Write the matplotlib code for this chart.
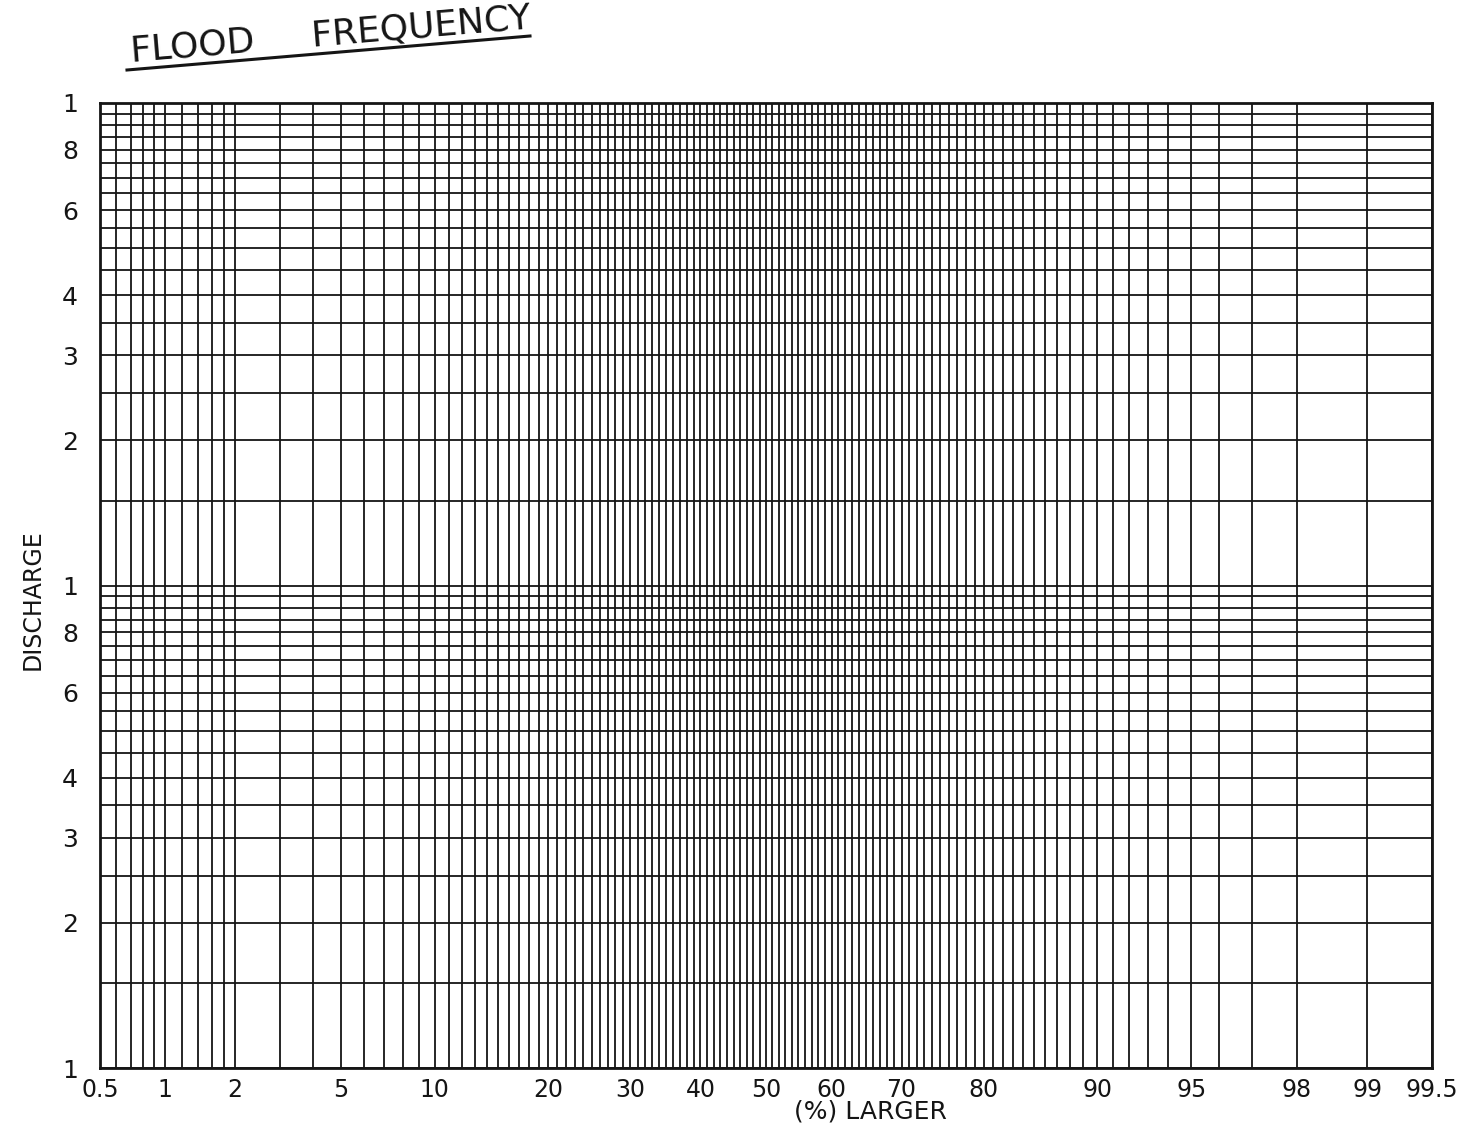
import math
from statistics import NormalDist

import numpy as np
import matplotlib
matplotlib.use("Agg")
import matplotlib.pyplot as plt
from matplotlib.lines import Line2D
from matplotlib.ticker import NullFormatter

# ---------------- data ----------------
prob_ticks = [0.5, 1, 2, 5, 10, 20, 30, 40, 50, 60, 70, 80, 90, 95, 98, 99, 99.5]
prob_tick_labels = ["0.5", "1", "2", "5", "10", "20", "30", "40", "50",
                    "60", "70", "80", "90", "95", "98", "99", "99.5"]
prob_grid_low = [0.6, 0.7, 0.8, 0.9, 1, 1.2, 1.4, 1.6, 1.8, 2, 3, 4, 5, 6, 7, 8, 9]
prob_grid_mid = list(range(10, 96))          # one line per percent 10 … 95
prob_grid_high = [96, 97, 98, 99]
prob_grid = prob_grid_low + prob_grid_mid + prob_grid_high

discharge_ticks = [1, 2, 3, 4, 6, 8, 10, 20, 30, 40, 60, 80, 100]
discharge_tick_labels = ["1", "2", "3", "4", "6", "8",
                         "1", "2", "3", "4", "6", "8", "1"]
discharge_steps = [1.0, 1.5, 2.0, 2.5, 3.0, 3.5, 4.0, 4.5, 5.0, 5.5,
                   6.0, 6.5, 7.0, 7.5, 8.0, 8.5, 9.0, 9.5]
discharge_cycles = [1, 10]
discharge_grid = [s * c for c in discharge_cycles for s in discharge_steps] + [100]

title_text = "FLOOD     FREQUENCY"
xlabel_text = "(%) LARGER"
ylabel_text = "DISCHARGE"

# ---------------- probability scale ----------------
_nd = NormalDist()


def _fwd(p):
    p = np.asarray(p, dtype=float)
    q = np.clip(p / 100.0, 1e-9, 1 - 1e-9)
    return np.vectorize(_nd.inv_cdf)(q)


def _inv(z):
    z = np.asarray(z, dtype=float)
    return 50.0 * (1.0 + np.vectorize(math.erf)(z / math.sqrt(2.0)))


W, H = 1464, 1133
fig = plt.figure(figsize=(W / 100, H / 100), dpi=100)
fig.patch.set_facecolor("white")

left, right, top, bottom = 100, 1432, 103, 1068
ax = fig.add_axes([left / W, 1 - bottom / H, (right - left) / W, (bottom - top) / H])

ax.set_xscale("function", functions=(_fwd, _inv))
ax.set_yscale("log")
ax.set_xlim(0.5, 99.5)
ax.set_ylim(1, 100)

ink = "#151515"

ax.set_xticks(prob_ticks)
ax.set_xticklabels(prob_tick_labels)
ax.set_xticks(prob_grid, minor=True)
ax.xaxis.set_minor_formatter(NullFormatter())

ax.set_yticks(discharge_ticks)
ax.set_yticklabels(discharge_tick_labels)
ax.set_yticks(discharge_grid, minor=True)
ax.yaxis.set_minor_formatter(NullFormatter())

ax.grid(True, which="both", color=ink, linewidth=1.3)
ax.set_axisbelow(False)

ax.tick_params(which="both", length=0)
ax.tick_params(axis="x", which="major", pad=7, labelsize=17, colors=ink)
ax.tick_params(axis="y", which="major", pad=16, labelsize=18, colors=ink)

for s in ax.spines.values():
    s.set_color(ink)
    s.set_linewidth(2.0)

# ---------------- texts ----------------
fig.text(132 / W, 1 - 62 / H, title_text, fontsize=26, color=ink,
         ha="left", va="baseline", rotation=4.8, rotation_mode="anchor")
fig.add_artist(Line2D([127 / W, 530 / W], [1 - 70 / H, 1 - 36 / H],
                      color=ink, linewidth=2.2, transform=fig.transFigure))

fig.text(870 / W, 1 - 1112 / H, xlabel_text, fontsize=18, color=ink,
         ha="center", va="center")
fig.text(33 / W, 1 - 600 / H, ylabel_text, fontsize=17, color=ink,
         ha="center", va="center", rotation=90)

fig.savefig("out.png", dpi=100, facecolor="white")
